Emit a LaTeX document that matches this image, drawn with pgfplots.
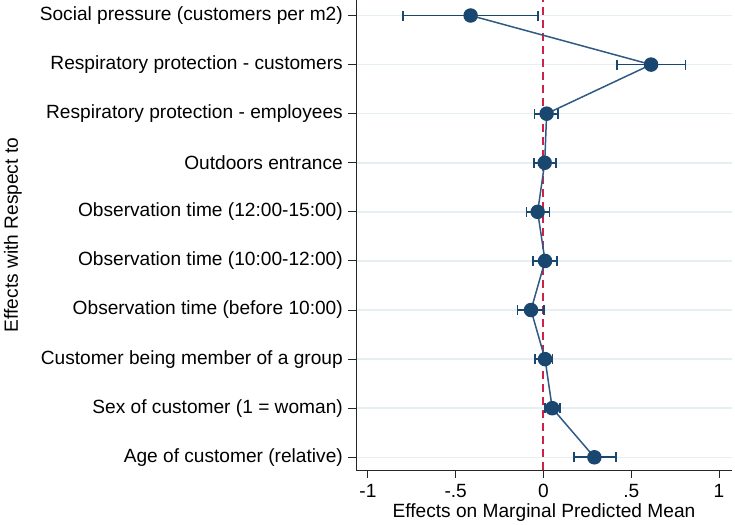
\documentclass[border=0pt]{standalone}
\usepackage{pgfplots}
\pgfplotsset{compat=1.18}
\usepackage{pgfplotstable}
\usepackage{fontspec}
\setmainfont{Liberation Sans}
\definecolor{navy}{HTML}{1A476F}
\definecolor{lnavy}{HTML}{2E5A84}
\definecolor{refred}{HTML}{CD234B}
\definecolor{gridc}{HTML}{E6EFF2}
\pgfplotstableread{
y x em ep
10 -0.415 0.385 0.385
9 0.613 0.193 0.197
8 0.018 0.070 0.066
7 0.007 0.061 0.063
6 -0.033 0.063 0.066
5 0.009 0.069 0.068
4 -0.071 0.076 0.074
3 0.009 0.056 0.043
2 0.050 0.040 0.044
1 0.290 0.116 0.123
}\coefs
\begin{document}
\fontsize{19.2}{23}\selectfont
\begin{tikzpicture}
\begin{axis}[
  at={(0,0)}, anchor=south west,
  scale only axis, width=376bp, height=470bp,
  xmin=-1.068, xmax=1.074, ymin=0.741, ymax=10.316,
  axis x line*=bottom, axis y line*=left,
  axis line style={black!85, line width=0.9bp},
  tick align=outside, major tick length=8bp,
  tick style={black!85, line width=0.9bp},
  xtick={-1,-0.5,0,0.5,1}, xticklabels={-1,-.5,0,.5,1},
  ytick={1,...,10},
  yticklabels={Age of customer (relative),Sex of customer (1 = woman),Customer being member of a group,Observation time (before 10:00),Observation time (10:00-12:00),Observation time (12:00-15:00),Outdoors entrance,Respiratory protection - employees,Respiratory protection - customers,Social pressure (customers per m2)},
  ymajorgrids, major grid style={gridc, line width=1.5bp},
  /pgf/number format/assume math mode=true,
  ticklabel style={font=\fontsize{19.2}{23}\selectfont, inner sep=0pt},
  yticklabel style={xshift=-5bp},
  xticklabel style={yshift=-6bp},
  xlabel={Effects on Marginal Predicted Mean},
  ylabel={Effects with Respect to},
  label style={font=\fontsize{19.2}{23}\selectfont},
  xlabel style={at={(axis description cs:0.5,-0.1)}, anchor=base, inner sep=0pt},
  ylabel style={at={(axis description cs:-0.899,0.5)}, anchor=base, inner sep=0pt, rotate=0},
  clip=false,
]
\draw[refred, line width=2bp, dash pattern=on 8bp off 5bp] (axis cs:0,0.741) -- (axis cs:0,10.316);
\addplot[lnavy, line width=1.5bp, mark=*, mark size=6.5bp,
  mark options={fill=navy, draw=navy, solid},
  error bars/.cd, x dir=both, x explicit,
  error bar style={navy, line width=1.8bp},
  error mark options={rotate=90, mark size=5bp, line width=1.5bp, navy}]
  table[x=x, y=y, x error minus=em, x error plus=ep] {\coefs};
\end{axis}
\pgfresetboundingbox
\useasboundingbox (-356bp,-55bp) rectangle (379bp,470bp);
\end{tikzpicture}
\end{document}
